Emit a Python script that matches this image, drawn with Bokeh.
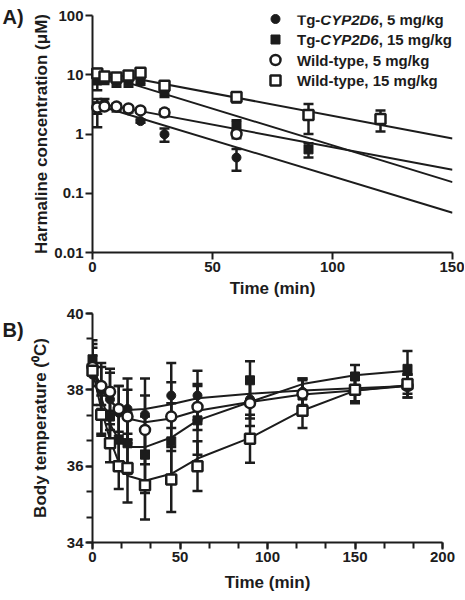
from bokeh.plotting import figure
from bokeh.models import (ColumnDataSource, Whisker, TeeHead, FixedTicker, Label,
                          CustomJSTickFormatter)
from bokeh.core.properties import value
from bokeh.layouts import column
from bokeh.embed import file_html
from bokeh.resources import INLINE

# ---------------- Panel A: harmaline concentration (uM), log scale ----------------
a_time_tg5 = [2, 5, 10, 15, 20, 30, 60]
a_tg5 = [2.6, 3.3, 2.8, 2.5, 1.65, 0.99, 0.40]
a_tg5_err = [1.3, 0.6, 0.4, 0.2, 0.1, 0.25, 0.16]

a_time_tg15 = [2, 5, 10, 15, 20, 30, 60, 90]
a_tg15 = [8.0, 8.5, 7.8, 7.8, 8.3, 5.2, 1.4, 0.55]
a_tg15_err = [2.5, 1.5, 1.5, 1.5, 1.5, 1.0, 0.3, 0.15]

a_time_wt5 = [2, 5, 10, 15, 20, 30, 60]
a_wt5 = [2.8, 2.9, 2.9, 2.7, 2.5, 2.3, 1.0]
a_wt5_err = [0.6, 0.3, 0.3, 0.2, 0.2, 0.3, 0.15]

a_time_wt15 = [2, 5, 10, 15, 20, 30, 60, 90, 120]
a_wt15 = [10.5, 9.3, 9.0, 9.7, 10.8, 6.5, 4.2, 2.1, 1.8]
a_wt15_err = [2.0, 1.0, 1.5, 1.5, 1.5, 1.0, 0.8, 1.1, 0.7]

# fitted mono-exponential lines (value at start / end of the time axis)
fit_a_time = [0, 150]
fit_a_tg5 = [3.25, 0.047]
fit_a_tg15 = [11.2, 0.154]
fit_a_wt5 = [3.45, 0.25]
fit_a_wt15 = [11.8, 0.84]

a_xticks = [0, 50, 100, 150]
a_yticks = [0.01, 0.1, 1, 10, 100]

# ---------------- Panel B: body temperature (deg C) ----------------
b_time = [0, 5, 10, 15, 20, 30, 45, 60, 90, 120, 150, 180]
b_tg5 = [38.4, 38.0, 37.75, 37.4, 37.5, 37.35, 37.85, 37.85, 37.75, 37.95, 38.0, 38.1]
b_tg5_err = [0.8, 0.7, 0.8, 0.7, 0.8, 0.95, 0.85, 0.65, 0.5, 0.35, 0.3, 0.3]
b_tg15 = [38.8, 37.4, 37.3, 36.7, 36.6, 36.3, 36.65, 37.2, 38.25, 37.85, 38.35, 38.55]
b_tg15_err = [0.5, 0.6, 0.6, 0.7, 0.8, 1.0, 1.0, 0.9, 0.5, 0.4, 0.3, 0.47]
b_wt5 = [38.6, 38.1, 37.95, 37.5, 37.3, 36.95, 37.3, 37.55, 37.65, 37.9, 38.0, 38.1]
b_wt5_err = [0.5, 0.5, 0.5, 0.6, 0.7, 0.9, 0.9, 0.6, 0.6, 0.4, 0.35, 0.3]
b_wt15 = [38.5, 37.35, 36.6, 36.0, 35.95, 35.5, 35.65, 36.0, 36.72, 37.45, 38.0, 38.15]
b_wt15_err = [0.4, 0.5, 0.5, 0.6, 0.9, 0.9, 0.85, 0.65, 0.63, 0.45, 0.3, 0.25]

# fitted curves evaluated at the sampling times
fit_b_tg5 = [38.45, 38.0, 37.7, 37.52, 37.47, 37.5, 37.62, 37.78, 37.9, 37.98, 38.04, 38.1]
fit_b_tg15 = [38.8, 37.8, 37.1, 36.7, 36.5, 36.5, 36.75, 37.2, 37.68, 38.15, 38.38, 38.5]
fit_b_wt5 = [38.55, 38.1, 37.75, 37.45, 37.25, 37.15, 37.25, 37.45, 37.68, 37.88, 37.98, 38.1]
fit_b_wt15 = [38.5, 37.5, 36.7, 36.1, 35.75, 35.62, 35.8, 36.2, 36.74, 37.46, 37.98, 38.12]

b_xticks = [0, 50, 100, 150, 200]
b_xminor = [50 * i / 3 for i in range(13)]
b_yticks = [34, 36, 38, 40]
b_yminor = [34 + 2 * i / 3 for i in range(10)]

legend_labels = [
    ("Tg-", "CYP2D6", ", 5 mg/kg"),
    ("Tg-", "CYP2D6", ", 15 mg/kg"),
    ("Wild-type, 5 mg/kg", "", ""),
    ("Wild-type, 15 mg/kg", "", ""),
]

INK = "#1c1c1c"
FONT = "Liberation Sans"
TICK_FS = 15
LAB_FS = 17
LEG_FS = 15

STYLES = {
    "tg5": dict(marker="circle", size=9, fill_color=INK, line_width=1),
    "tg15": dict(marker="square", size=9, fill_color=INK, line_width=1),
    "wt5": dict(marker="circle", size=10, fill_color="white", line_width=2.5),
    "wt15": dict(marker="square", size=10, fill_color="white", line_width=2.5),
}


def style_axes(p, xt, xm, yt, ym, ylab_standoff, xlab_standoff):
    p.xaxis.ticker = FixedTicker(ticks=xt, minor_ticks=xm)
    p.yaxis.ticker = FixedTicker(ticks=yt, minor_ticks=ym)
    for ax in (p.xaxis, p.yaxis):
        ax.axis_line_width = 2
        ax.axis_line_color = INK
        ax.major_tick_line_width = 2
        ax.major_tick_line_color = INK
        ax.minor_tick_line_width = 2
        ax.minor_tick_line_color = INK
        ax.major_tick_in = 0
        ax.major_tick_out = 7
        ax.minor_tick_in = 0
        ax.minor_tick_out = 6
        ax.major_label_text_font = FONT
        ax.major_label_text_font_style = "bold"
        ax.major_label_text_font_size = f"{TICK_FS}px"
        ax.major_label_text_color = INK
        ax.major_label_standoff = 2
        ax.axis_label_text_font = FONT
        ax.axis_label_text_font_style = "bold"
        ax.axis_label_text_font_size = f"{LAB_FS}px"
        ax.axis_label_text_color = INK
    p.xaxis.axis_label_standoff = xlab_standoff
    p.yaxis.axis_label_standoff = ylab_standoff
    p.grid.visible = False


def add_series(p, t, v, e, key):
    src = ColumnDataSource(dict(t=t, v=v,
                                lo=[a - b for a, b in zip(v, e)],
                                hi=[a + b for a, b in zip(v, e)]))
    w = Whisker(source=src, base="t", lower="lo", upper="hi", dimension="height",
                line_color=INK, line_width=2.5, level="guide",
                upper_head=TeeHead(size=10, line_color=INK, line_width=2.5),
                lower_head=TeeHead(size=10, line_color=INK, line_width=2.5))
    p.add_layout(w)
    st = STYLES[key]
    r = p.scatter("t", "v", source=src, marker=st["marker"], size=st["size"],
                  fill_color=st["fill_color"], line_color=INK, line_width=st["line_width"])
    r.level = "overlay"
    return r


def panel_letter(p, x, y, letter):
    r = p.text(x=[x], y=[y], text=[letter], text_font=value(FONT), text_font_style="bold",
               text_font_size="20px", text_color=INK, text_baseline="top", text_align="left")
    r.level = "overlay"


# ================= Figure A =================
A_FW, A_FH = 360, 237
pa = figure(output_backend="svg", toolbar_location=None,
            x_range=(0, 150), y_range=(0.01, 100), y_axis_type="log",
            frame_width=A_FW, frame_height=A_FH,
            min_border_left=92, min_border_right=12, min_border_top=15, min_border_bottom=52,
            outline_line_color=None, background_fill_color="white", border_fill_color="white",
            x_axis_label="Time (min)", y_axis_label="Harmaline concentration (μM)")
style_axes(pa, a_xticks, [], a_yticks, [], 0, 4)
pa.yaxis.formatter = CustomJSTickFormatter(code="return String(Number(tick.toPrecision(6)));")


def a_x(px):
    return px * 150 / A_FW


def a_y(py):
    return 10 ** (2 - py * 4 / A_FH)


for yv in (fit_a_tg5, fit_a_tg15, fit_a_wt5, fit_a_wt15):
    pa.line(fit_a_time, yv, line_color=INK, line_width=2)

add_series(pa, a_time_tg5, a_tg5, a_tg5_err, "tg5")
add_series(pa, a_time_tg15, a_tg15, a_tg15_err, "tg15")
add_series(pa, a_time_wt5, a_wt5, a_wt5_err, "wt5")
add_series(pa, a_time_wt15, a_wt15, a_wt15_err, "wt15")

# legend (manual, for the italic gene name)
rows_py = [3.5, 24, 44.5, 65]
keys = ["tg5", "tg15", "wt5", "wt15"]
W_TG = 1.555 * LEG_FS
W_GENE = 3.89 * LEG_FS
for py, key, parts in zip(rows_py, keys, legend_labels):
    st = STYLES[key]
    r = pa.scatter([a_x(183)], [a_y(py)], marker=st["marker"], size=st["size"],
                   fill_color=st["fill_color"], line_color=INK, line_width=st["line_width"])
    r.level = "overlay"
    offs = [0, W_TG, W_TG + W_GENE]
    styles = ["bold", "bold italic", "bold"]
    for txt, off, fs in zip(parts, offs, styles):
        if not txt:
            continue
        pa.add_layout(Label(x=a_x(204.5), y=a_y(py), x_offset=off, text=txt,
                            text_font=FONT, text_font_style=fs, text_font_size=f"{LEG_FS}px",
                            text_color=INK, text_baseline="middle", text_align="left"))

panel_letter(pa, a_x(-90), a_y(-10), "A)")

# ================= Figure B =================
B_FW, B_FH = 350, 229
pb = figure(output_backend="svg", toolbar_location=None,
            x_range=(0, 200), y_range=(34, 40),
            frame_width=B_FW, frame_height=B_FH,
            min_border_left=92, min_border_right=22, min_border_top=9, min_border_bottom=56,
            outline_line_color=None, background_fill_color="white", border_fill_color="white",
            x_axis_label="Time (min)", y_axis_label="Body temperature (⁰C)")
style_axes(pb, b_xticks, b_xminor, b_yticks, b_yminor, 14, 8)


def b_x(px):
    return px * 200 / B_FW


def b_y(py):
    return 40 - py * 6 / B_FH


for yv in (fit_b_tg5, fit_b_tg15, fit_b_wt5, fit_b_wt15):
    pb.line(b_time, yv, line_color=INK, line_width=2)

add_series(pb, b_time, b_tg5, b_tg5_err, "tg5")
add_series(pb, b_time, b_tg15, b_tg15_err, "tg15")
add_series(pb, b_time, b_wt5, b_wt5_err, "wt5")
add_series(pb, b_time, b_wt15, b_wt15_err, "wt15")

panel_letter(pb, b_x(-90), b_y(5), "B)")

layout = column(pa, pb, spacing=0)
open("out.html", "w").write(file_html(layout, INLINE))
